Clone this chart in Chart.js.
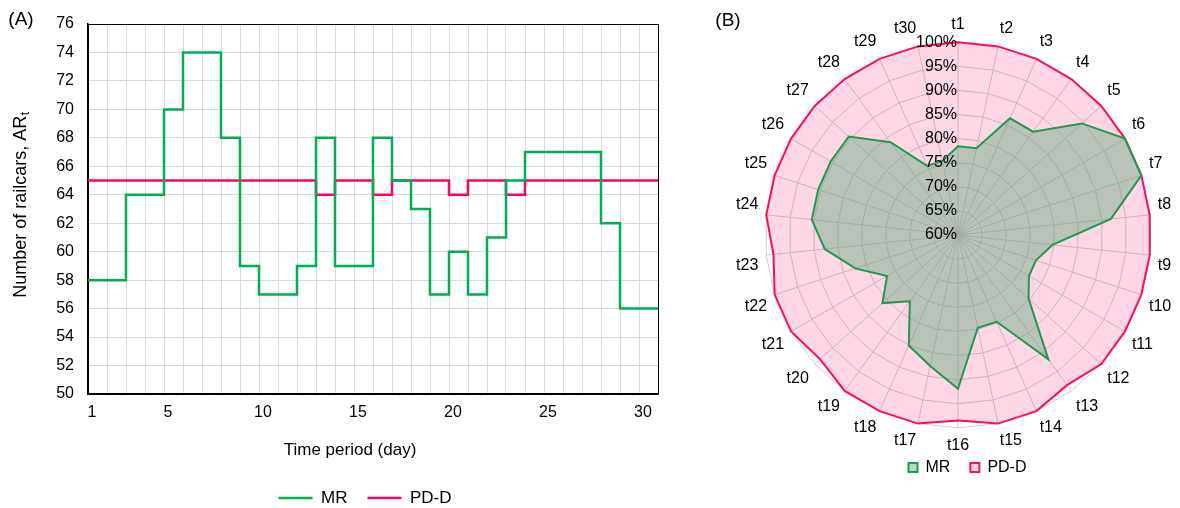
<!DOCTYPE html>
<html>
<head>
<meta charset="utf-8">
<script src="https://cdn.jsdelivr.net/npm/chart.js@4.4.1/dist/chart.umd.min.js"></script>
<style>
  html, body { margin: 0; padding: 0; background: #fff; }
  #wrap { position: relative; width: 1180px; height: 508px; overflow: hidden; background: #fff; }
  #stepChart { position: absolute; left: 0; top: 0; }
  #radarChart { position: absolute; left: 700px; top: 0; }
</style>
</head>
<body>
<div id="wrap">
  <canvas id="stepChart" width="680" height="508"></canvas>
  <canvas id="radarChart" width="480" height="508"></canvas>
</div>
<script>
// (A) number of railcars per day
const days = [1, 2, 3, 4, 5, 6, 7, 8, 9, 10, 11, 12, 13, 14, 15,
              16, 17, 18, 19, 20, 21, 22, 23, 24, 25, 26, 27, 28, 29, 30];
const mrCars = [58, 58, 64, 64, 70, 74, 74, 68, 59, 57, 57, 59, 68, 59, 59,
                68, 65, 63, 57, 60, 57, 61, 65, 67, 67, 67, 67, 62, 56, 56];
const pddCars = [65, 65, 65, 65, 65, 65, 65, 65, 65, 65, 65, 65, 64, 65, 65,
                 64, 65, 65, 65, 64, 65, 65, 64, 65, 65, 65, 65, 65, 65, 65];
const xTickLabels = [1, 5, 10, 15, 20, 25, 30];

// (B) share of the maximum, in percent
const periodLabels = ['t1', 't2', 't3', 't4', 't5', 't6', 't7', 't8', 't9', 't10',
                      't11', 't12', 't13', 't14', 't15', 't16', 't17', 't18', 't19', 't20',
                      't21', 't22', 't23', 't24', 't25', 't26', 't27', 't28', 't29', 't30'];
const mrShare = [78.4, 78.4, 86.5, 86.5, 94.6, 100, 100, 91.9, 79.7, 77.0,
                 77.0, 79.7, 91.9, 79.7, 79.7, 91.9, 87.8, 85.1, 77.0, 81.1,
                 77.0, 82.4, 87.8, 90.5, 90.5, 90.5, 90.5, 83.8, 75.7, 75.7];
const pddShare = [100, 100, 100, 100, 100, 100, 100, 100, 100, 100,
                  100, 100, 98.5, 100, 100, 98.5, 100, 100, 100, 98.5,
                  100, 100, 98.5, 100, 100, 100, 100, 100, 100, 100];

const FONT = '"Liberation Sans", Arial, sans-serif';
Chart.defaults.font.family = FONT;
Chart.defaults.color = '#000';

const GREEN = '#00b050';
const PINK = '#ff0066';

// hold each day's value until the start of the next day
function stepPoints(values) {
  const pts = days.map((d, i) => ({ x: d, y: values[i] }));
  pts.push({ x: days[days.length - 1] + 1, y: values[values.length - 1] });
  return pts;
}

// move the legend box after layout (Excel puts it off-centre)
const legendNudge = {
  id: 'legendNudge',
  afterLayout(chart, args, opts) {
    const lg = chart.legend;
    if (!lg) return;
    const dx = opts.dx || 0, dy = opts.dy || 0;
    lg.left += dx; lg.right += dx;
    lg.top += dy; lg.bottom += dy;
  }
};

const plotFrame = {
  id: 'plotFrame',
  beforeDatasetsDraw(chart) {
    const { ctx, chartArea: a } = chart;
    ctx.save();
    ctx.strokeStyle = '#000';
    ctx.lineWidth = 1;
    ctx.strokeRect(a.left + 0.5, a.top + 0.5, a.right - a.left, a.bottom - a.top);
    ctx.restore();
  }
};

const stepText = {
  id: 'stepText',
  afterDraw(chart) {
    const ctx = chart.ctx;
    ctx.save();
    ctx.fillStyle = '#000';
    ctx.textBaseline = 'middle';

    ctx.font = '19px ' + FONT;
    ctx.textAlign = 'center';
    ctx.fillText('(A)', 21, 20);

    ctx.font = '17px ' + FONT;
    ctx.fillText('Time period (day)', 350, 450);

    // y title with subscript t
    ctx.translate(21, 205);
    ctx.rotate(-Math.PI / 2);
    ctx.textAlign = 'left';
    const main = 'Number of railcars, AR';
    ctx.font = '18px ' + FONT;
    const wMain = ctx.measureText(main).width;
    ctx.font = '12px ' + FONT;
    const wSub = ctx.measureText('t').width;
    const start = -(wMain + wSub) / 2;
    ctx.font = '18px ' + FONT;
    ctx.fillText(main, start, 0);
    ctx.font = '12px ' + FONT;
    ctx.fillText('t', start + wMain + 0.5, 5);
    ctx.restore();
  }
};

new Chart(document.getElementById('stepChart'), {
  type: 'line',
  data: {
    datasets: [
      {
        label: 'MR',
        data: stepPoints(mrCars),
        borderColor: GREEN,
        backgroundColor: GREEN,
        borderWidth: 2.5,
        stepped: true,
        pointRadius: 0,
        pointStyle: 'line'
      },
      {
        label: 'PD-D',
        data: stepPoints(pddCars),
        borderColor: PINK,
        backgroundColor: PINK,
        borderWidth: 2.5,
        stepped: true,
        pointRadius: 0,
        pointStyle: 'line'
      }
    ]
  },
  options: {
    responsive: false,
    animation: false,
    layout: { padding: { top: 24, right: 22, bottom: 0, left: 0 } },
    scales: {
      x: {
        type: 'linear',
        min: 1,
        max: 31,
        afterFit(scale) {
          scale.height = scale.chart.height - 394 - scale.chart.legend.height;
        },
        ticks: {
          stepSize: 1,
          autoSkip: false,
          maxTicksLimit: 40,
          maxRotation: 0,
          padding: 9,
          labelOffset: 4,
          font: { size: 16 },
          callback: (v) => (xTickLabels.includes(v) ? String(v) : '')
        },
        grid: { color: '#d9d9d9', drawTicks: false },
        border: { color: '#000', width: 1.5 }
      },
      y: {
        min: 50,
        max: 76,
        afterFit(scale) { scale.width = 88; },
        ticks: { stepSize: 2, padding: 14, font: { size: 16 } },
        grid: { color: '#d9d9d9', drawTicks: false },
        border: { color: '#000', width: 1.5 }
      }
    },
    plugins: {
      legend: {
        position: 'bottom',
        labels: {
          usePointStyle: true,
          pointStyle: 'line',
          pointStyleWidth: 34,
          padding: 20,
          font: { size: 17 },
          color: '#000'
        }
      },
      tooltip: { enabled: false },
      legendNudge: { dx: 36, dy: 8.5 }
    }
  },
  plugins: [legendNudge, plotFrame, stepText]
});

// percent labels right-aligned against the t1 spoke, drawn over the areas
const radarText = {
  id: 'radarText',
  afterDatasetsDraw(chart) {
    const ctx = chart.ctx;
    const r = chart.scales.r;
    ctx.save();
    ctx.fillStyle = '#000';
    ctx.font = '16px ' + FONT;
    ctx.textAlign = 'right';
    ctx.textBaseline = 'middle';
    r.ticks.forEach((t) => {
      const d = r.getDistanceFromCenterForValue(t.value);
      ctx.fillText(t.label, r.xCenter - 1, r.yCenter - d);
    });
    ctx.font = '19px ' + FONT;
    ctx.textAlign = 'center';
    ctx.fillText('(B)', 28, 21);
    ctx.restore();
  }
};

new Chart(document.getElementById('radarChart'), {
  type: 'radar',
  data: {
    labels: periodLabels,
    datasets: [
      {
        label: 'MR',
        data: mrShare,
        borderColor: '#1f9a4f',
        backgroundColor: 'rgba(100, 170, 130, 0.45)',
        borderWidth: 2,
        fill: true,
        pointRadius: 0
      },
      {
        label: 'PD-D',
        data: pddShare,
        borderColor: '#ff0a68',
        backgroundColor: 'rgba(255, 0, 102, 0.16)',
        borderWidth: 2,
        fill: true,
        pointRadius: 0
      }
    ]
  },
  options: {
    responsive: false,
    animation: false,
    layout: { padding: { top: 15, right: 3, bottom: 6, left: 31 } },
    scales: {
      r: {
        min: 60,
        max: 100,
        ticks: { stepSize: 5, display: false, callback: (v) => v + '%' },
        grid: { color: '#cfcfcf' },
        angleLines: { color: '#cfcfcf' },
        pointLabels: { font: { size: 16 }, color: '#000', padding: 8 }
      }
    },
    plugins: {
      legend: {
        position: 'bottom',
        labels: { boxWidth: 9, boxHeight: 9, padding: 20, font: { size: 16 }, color: '#000' }
      },
      tooltip: { enabled: false },
      legendNudge: { dx: 13.5, dy: -16.5 }
    }
  },
  plugins: [legendNudge, radarText]
});
</script>
</body>
</html>
